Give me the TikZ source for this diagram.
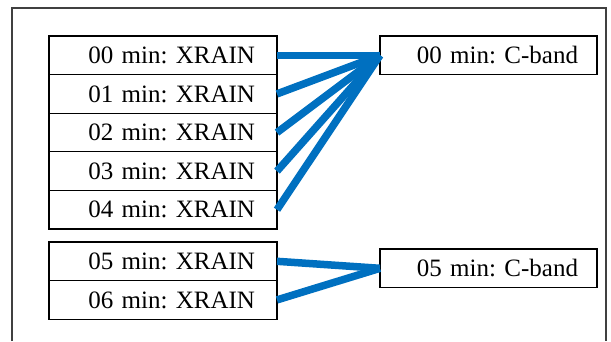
\documentclass[tikz,border=0pt]{standalone}
\usepackage{fontspec}
\setmainfont{Liberation Serif}
\usetikzlibrary{positioning}
\definecolor{FrameGray}{HTML}{404040}
\definecolor{LinkBlue}{HTML}{0070C0}
\frenchspacing
\tikzset{
    % Box styles
    xrain box/.style={
        rectangle,
        draw=black,
        line width=1.3pt,
        outer sep=0pt,
        inner xsep=22pt,
        text width=184pt,
        minimum height=38.6pt,
        align=right,
        font=\fontsize{25}{30}\selectfont
    },
    cband box/.style={
        xrain box,
        inner xsep=19pt,
        text width=179pt
    },
    link style/.style={
        LinkBlue,
        line width=7.5pt
    },
    frame style/.style={
        FrameGray,
        line width=1.4pt
    }
}
\begin{document}
\begin{tikzpicture}[x=1pt, y=-1pt]
        \useasboundingbox (0,0) rectangle (611,341);

        % Outer frame
        \draw[frame style] (12,341) |- (606,8) -- (606,341);

        % XRAIN boxes, first group
        \node[xrain box, anchor=north west] (x00) at (49,36) {00 min: XRAIN};
        \node[xrain box, below=0pt of x00] (x01) {01 min: XRAIN};
        \node[xrain box, below=0pt of x01] (x02) {02 min: XRAIN};
        \node[xrain box, below=0pt of x02] (x03) {03 min: XRAIN};
        \node[xrain box, below=0pt of x03] (x04) {04 min: XRAIN};

        % XRAIN boxes, second group
        \node[xrain box, anchor=north west] (x05) at (49,242) {05 min: XRAIN};
        \node[xrain box, below=0pt of x05] (x06) {06 min: XRAIN};

        % C-band boxes
        \node[cband box, anchor=north west] (c00) at (380,36) {00 min: C-band};
        \node[cband box, anchor=north west] (c05) at (380,249) {05 min: C-band};

        % Links
        \draw[link style] (x00.east) -- (c00.west);
        \draw[link style] (x01.east) -- (c00.west);
        \draw[link style] (x02.east) -- (c00.west);
        \draw[link style] (x03.east) -- (c00.west);
        \draw[link style] (x04.east) -- (c00.west);
        \draw[link style] (x05.east) -- (c05.west);
        \draw[link style] (x06.east) -- (c05.west);
    \end{tikzpicture}
\end{document}
